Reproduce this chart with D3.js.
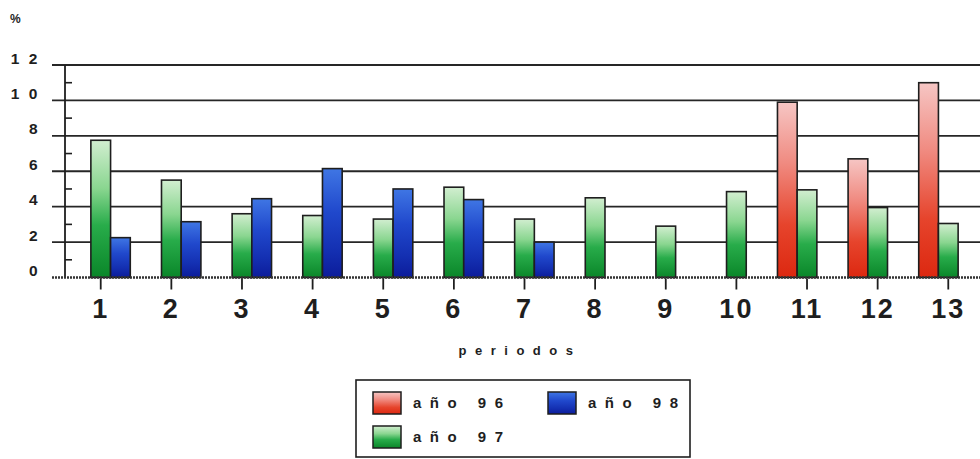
<!DOCTYPE html>
<html>
<head>
<meta charset="utf-8">
<script src="https://cdn.jsdelivr.net/npm/d3@7"></script>
<style>
  body { margin: 0; background: #ffffff; }
  svg { display: block; }
</style>
</head>
<body>
<svg id="chart" width="980" height="459"></svg>
<script>
// Periods on the horizontal axis
const periods = ["1", "2", "3", "4", "5", "6", "7", "8", "9", "10", "11", "12", "13"];
// Percentages per year (null = no bar)
const year96 = [null, null, null, null, null, null, null, null, null, null, 9.9, 6.7, 11.0];
const year97 = [7.75, 5.5, 3.6, 3.5, 3.3, 5.1, 3.3, 4.5, 2.9, 4.85, 4.95, 3.95, 3.05];
const year98 = [2.25, 3.15, 4.45, 6.15, 5.0, 4.4, 2.0, null, null, null, null, null, null];
const seriesNames = ["año 96", "año 97", "año 98"];
const yTickValues = [0, 2, 4, 6, 8, 10, 12];
const yTickLabels = ["0", "2", "4", "6", "8", "10", "12"];
const yMinorTicks = [1, 3, 5, 7, 9, 11];

const svg = d3.select("#chart");
const W = 980;

const seriesKeys = ["y96", "y97", "y98"];
const rows = periods.map((p, i) => ({ period: p, y96: year96[i], y97: year97[i], y98: year98[i] }));

const x = d3.scaleBand().domain(periods).range([65.4, 983.6])
  .paddingInner(0.163).paddingOuter(0.0816);
const xs = d3.scaleBand().domain(seriesKeys).range([0, x.bandwidth()]);
const y = d3.scaleLinear().domain([0, 12]).range([277.5, 65]);

// gradients: pale at the top, saturated at the bottom
const defs = svg.append("defs");
const gradStops = {
  y96: [["0%", "#f6c6c4"], ["35%", "#f08a80"], ["70%", "#e6442c"], ["100%", "#dc2810"]],
  y97: [["0%", "#d2eed0"], ["35%", "#8ad690"], ["62%", "#28ac4a"], ["100%", "#0a8629"]],
  y98: [["0%", "#3f76e4"], ["40%", "#2048cc"], ["75%", "#1430b2"], ["100%", "#0c1c9a"]]
};
Object.entries(gradStops).forEach(([k, stops]) => {
  const g = defs.append("linearGradient").attr("id", "g-" + k)
    .attr("x1", 0).attr("y1", 0).attr("x2", 0).attr("y2", 1);
  stops.forEach(([o, c]) => g.append("stop").attr("offset", o).attr("stop-color", c));
});

const ink = "#1e1e1e";

// horizontal grid lines
svg.append("g").selectAll("line.grid").data(yTickValues.filter(v => v > 0)).join("line")
  .attr("x1", 52).attr("x2", W)
  .attr("y1", d => y(d)).attr("y2", d => y(d))
  .attr("stroke", "#262626").attr("stroke-width", 1.8);

// minor ticks on the value axis
svg.append("g").selectAll("line").data(yMinorTicks).join("line")
  .attr("x1", 65).attr("x2", 72)
  .attr("y1", d => y(d)).attr("y2", d => y(d))
  .attr("stroke", ink).attr("stroke-width", 1.6);

// value axis line
svg.append("line").attr("x1", 65).attr("x2", 65)
  .attr("y1", y(12)).attr("y2", y(0))
  .attr("stroke", ink).attr("stroke-width", 1.8);

// value tick labels
svg.append("g").selectAll("text").data(yTickValues).join("text")
  .attr("x", 47).attr("y", d => y(d) - 5.5)
  .attr("text-anchor", "end").attr("dominant-baseline", "middle")
  .attr("font-family", "Liberation Sans, Arial, sans-serif")
  .attr("font-weight", "bold").attr("font-size", 15.5)
  .attr("letter-spacing", 9.5).attr("fill", ink)
  .text((d, i) => yTickLabels[i]);

svg.append("text").attr("x", 10).attr("y", 23)
  .attr("font-family", "Liberation Sans, Arial, sans-serif")
  .attr("font-weight", "bold").attr("font-size", 12).attr("fill", ink)
  .text("%");

// bars
const groups = svg.append("g").selectAll("g").data(rows).join("g")
  .attr("transform", d => `translate(${x(d.period)},0)`);
groups.selectAll("rect")
  .data(d => seriesKeys.filter(k => d[k] != null).map(k => ({ key: k, value: d[k] })))
  .join("rect")
  .attr("x", d => xs(d.key)).attr("width", xs.bandwidth())
  .attr("y", d => y(d.value)).attr("height", d => y(0) - y(d.value))
  .attr("fill", d => `url(#g-${d.key})`)
  .attr("stroke", ink).attr("stroke-width", 1.6);

// baseline
svg.append("line").attr("x1", 52).attr("x2", W)
  .attr("y1", y(0)).attr("y2", y(0))
  .attr("stroke", "#333").attr("stroke-width", 2.6)
  .attr("stroke-dasharray", "2,1");

// category axis
const xAxis = d3.axisBottom(x).tickSize(11).tickPadding(9);
const gx = svg.append("g").attr("transform", `translate(0,${y(0) + 1})`).call(xAxis);
gx.select(".domain").remove();
gx.selectAll(".tick line").attr("stroke", ink).attr("stroke-width", 1.8);
gx.selectAll(".tick text")
  .attr("font-family", "Liberation Sans, Arial, sans-serif")
  .attr("font-weight", "bold").attr("font-size", 27).attr("letter-spacing", 2)
  .attr("fill", ink);

svg.append("text").attr("x", 520).attr("y", 355)
  .attr("text-anchor", "middle")
  .attr("font-family", "Liberation Sans, Arial, sans-serif")
  .attr("font-weight", "bold").attr("font-size", 13).attr("letter-spacing", 8.5)
  .attr("fill", ink).text("periodos");

// legend
const legend = svg.append("g");
legend.append("rect").attr("x", 356).attr("y", 380).attr("width", 334).attr("height", 77)
  .attr("fill", "#fff").attr("stroke", ink).attr("stroke-width", 1.6);
const legendItems = [
  { key: "y96", name: seriesNames[0], lx: 373, ly: 392 },
  { key: "y98", name: seriesNames[2], lx: 548, ly: 392 },
  { key: "y97", name: seriesNames[1], lx: 373, ly: 426 }
];
const li = legend.selectAll("g.item").data(legendItems).join("g")
  .attr("transform", d => `translate(${d.lx},${d.ly})`);
li.append("rect").attr("width", 28).attr("height", 22)
  .attr("fill", d => `url(#g-${d.key})`).attr("stroke", ink).attr("stroke-width", 1.5);
li.append("text").attr("x", 40).attr("y", 16)
  .attr("font-family", "Liberation Sans, Arial, sans-serif")
  .attr("font-weight", "bold").attr("font-size", 15).attr("letter-spacing", 8.5)
  .attr("fill", ink).text(d => d.name);
</script>
</body>
</html>
